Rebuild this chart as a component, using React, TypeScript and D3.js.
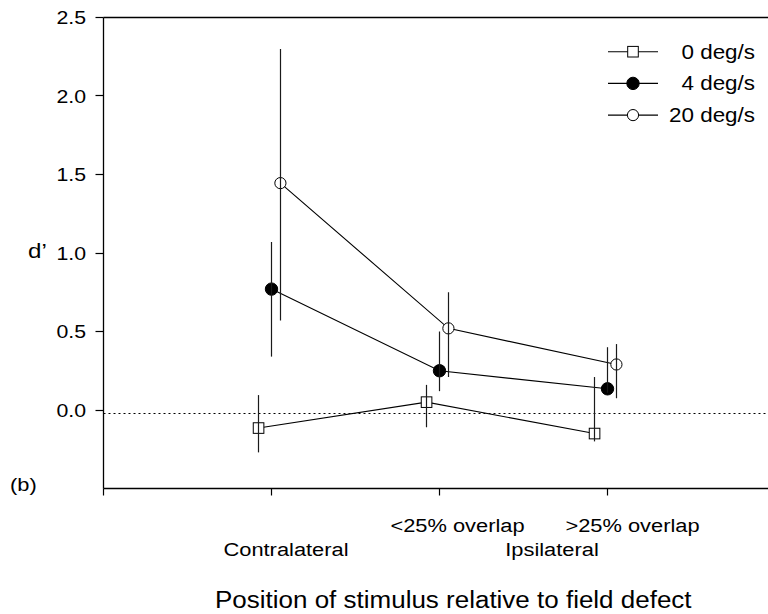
import React from "react";
import * as d3 from "d3";

const categories = ["Contralateral", "<25% overlap", ">25% overlap"];
const catX = [1, 2, 3];
const seriesNames = ["0 deg/s", "4 deg/s", "20 deg/s"];
const mean0 = [-0.115, 0.05, -0.15];
const upper0 = [0.095, 0.16, 0.21];
const lower0 = [-0.27, -0.11, -0.2];
const mean4 = [0.77, 0.25, 0.135];
const upper4 = [1.07, 0.5, 0.4];
const lower4 = [0.34, 0.12, 0.11];
const mean20 = [1.445, 0.52, 0.29];
const upper20 = [2.3, 0.75, 0.42];
const lower20 = [0.57, 0.21, 0.075];
const yTickValues = [0, 0.5, 1.0, 1.5, 2.0, 2.5];
const xTickValues = [0, 1, 2, 3, 4];
const refLine = -0.025;

const SX = 1.15;
const FONT = "'Liberation Sans', Arial, sans-serif";

type Marker = "square" | "filled" | "open";
const series: { name: string; mean: number[]; up: number[]; lo: number[]; marker: Marker; dx: number }[] = [
  { name: seriesNames[0], mean: mean0, up: upper0, lo: lower0, marker: "square", dx: -0.077 },
  { name: seriesNames[1], mean: mean4, up: upper4, lo: lower4, marker: "filled", dx: 0 },
  { name: seriesNames[2], mean: mean20, up: upper20, lo: lower20, marker: "open", dx: 0.053 },
];

const crisp = (v: number) => Math.round(v - 0.5) + 0.5;

function MarkerShape({ kind, cx, cy }: { kind: Marker; cx: number; cy: number }) {
  if (kind === "square")
    return <rect x={cx - 5.3} y={cy - 5.3} width={10.6} height={10.6} fill="#fff" stroke="#000" strokeWidth={1} />;
  if (kind === "filled") return <circle cx={cx} cy={cy} r={6.2} fill="#000" stroke="#000" />;
  return <circle cx={cx} cy={cy} r={5.6} fill="#fff" stroke="#000" strokeWidth={1} />;
}

function T({ x, y, size, anchor, children, sx = SX }: any) {
  return (
    <text
      transform={`translate(${x},${y}) scale(${sx},1)`}
      fontSize={size}
      fontFamily={FONT}
      textAnchor={anchor || "start"}
      fill="#000"
    >
      {children}
    </text>
  );
}

export default function App() {
  const W = 768, H = 614;
  const x = d3.scaleLinear().domain([0, 4]).range([103.5, 775.5]);
  const y = d3.scaleLinear().domain([-0.5, 2.5]).range([488.5, 17.5]);
  const line = d3.line<[number, number]>().x((d) => x(d[0])).y((d) => y(d[1]));
  const fmt = d3.format(".1f");

  const row1 = [
    { text: categories[1], at: catX[1], dx: 18 },
    { text: categories[2], at: catX[2], dx: 25 },
  ];
  const row2 = [
    { text: categories[0], at: catX[0], dx: 14.5 },
    { text: "Ipsilateral", at: (catX[1] + catX[2]) / 2, dx: 28.5 },
  ];

  return (
    <svg width={W} height={H} style={{ position: "absolute", left: 0, top: 0, background: "#fff" }}>
      <rect width={W} height={H} fill="#fff" />
      {/* frame */}
      <line x1={x(0)} x2={W} y1={y(2.5)} y2={y(2.5)} stroke="#000" strokeWidth={1.3} />
      <line x1={x(0)} x2={x(0)} y1={y(2.5)} y2={y(-0.5)} stroke="#000" strokeWidth={1.3} />
      <line x1={x(0)} x2={W} y1={y(-0.5)} y2={y(-0.5)} stroke="#000" strokeWidth={1.3} />
      {yTickValues.map((v) => (
        <g key={v}>
          <line x1={x(0) - 8} x2={x(0)} y1={crisp(y(v))} y2={crisp(y(v))} stroke="#000" strokeWidth={1.2} />
          <T x={86} y={y(v) + 6.8} size={18.5} anchor="end">{fmt(v)}</T>
        </g>
      ))}
      {xTickValues.map((v) => (
        <line key={v} x1={crisp(x(v))} x2={crisp(x(v))} y1={y(-0.5)} y2={y(-0.5) + 7} stroke="#000" strokeWidth={1.2} />
      ))}
      {/* reference dotted line */}
      <line
        x1={x(0)}
        x2={W}
        y1={crisp(y(refLine))}
        y2={crisp(y(refLine))}
        stroke="#000"
        strokeWidth={1}
        strokeDasharray="2 3"
      />
      {/* connecting lines */}
      {series.map((s) => (
        <path
          key={s.name + "l"}
          d={line(s.mean.map((m, i) => [catX[i] + s.dx, m]) as [number, number][]) || ""}
          fill="none"
          stroke="#000"
          strokeWidth={1.1}
        />
      ))}
      {series.map((s) =>
        s.mean.map((m, i) => <MarkerShape key={s.name + i} kind={s.marker} cx={x(catX[i] + s.dx)} cy={y(m)} />)
      )}
      {series.map((s) =>
        s.mean.map((m, i) => (
          <line
            key={s.name + "e" + i}
            x1={crisp(x(catX[i] + s.dx))}
            x2={crisp(x(catX[i] + s.dx))}
            y1={y(s.up[i])}
            y2={y(s.lo[i])}
            stroke="#1a1a1a"
            strokeWidth={1.2}
          />
        ))
      )}
      {/* legend */}
      {series.map((s, i) => {
        const cy = 51.7 + i * 31.7;
        return (
          <g key={s.name + "leg"}>
            <line x1={608} x2={658} y1={cy} y2={cy} stroke="#000" strokeWidth={1.1} />
            <MarkerShape kind={s.marker} cx={633} cy={cy} />
            <T x={755} y={cy + 6.8} size={19.5} anchor="end">{s.name}</T>
          </g>
        );
      })}
      {/* labels */}
      <T x={28} y={258} size={21}>d’</T>
      <T x={10} y={491} size={19}>(b)</T>
      {row1.map((l) => (
        <T key={l.text} x={x(l.at) + l.dx} y={531.7} size={19} anchor="middle">{l.text}</T>
      ))}
      {row2.map((l) => (
        <T key={l.text} x={x(l.at) + l.dx} y={556} size={19} anchor="middle">{l.text}</T>
      ))}
      <T x={453.3} y={608.3} size={23} anchor="middle" sx={1.13}>Position of stimulus relative to field defect</T>
    </svg>
  );
}
